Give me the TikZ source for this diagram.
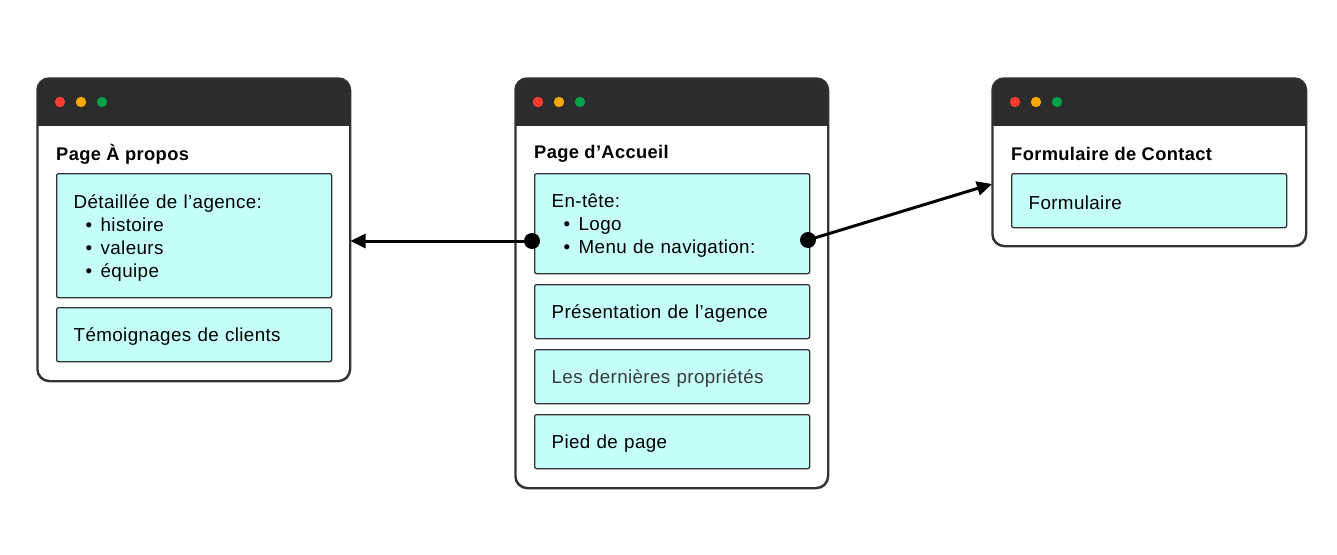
\documentclass[tikz,border=0pt]{standalone}
\usepackage{fontspec}
\setmainfont{Liberation Sans}[LetterSpace=2]
\usetikzlibrary{arrows.meta,calc}
\definecolor{hdr}{HTML}{2C2C2C}
\definecolor{frame}{HTML}{333333}
\definecolor{boxfill}{HTML}{C4FFFA}
\definecolor{dotred}{HTML}{FF3B30}
\definecolor{dotorange}{HTML}{FFA800}
\definecolor{dotgreen}{HTML}{00A148}
\definecolor{greytext}{HTML}{3A3A3A}
\newcommand{\bitem}[1]{\\\makebox[27pt][l]{\hspace{12pt}\textbullet}#1}
\begin{document}
\begin{tikzpicture}[x=1pt,y=-1pt,
  win/.style={draw=frame, line width=1.5pt, rounded corners=12pt, fill=white, anchor=north west, inner sep=0pt},
  boxnode/.style={draw=frame, line width=1.3pt, fill=boxfill, rounded corners=2pt, anchor=north west,
     minimum width=275pt, text width=241pt, inner xsep=17pt, inner ysep=0pt, align=left,
     font=\fontsize{18.8}{23}\selectfont},
  title/.style={anchor=west, inner sep=0pt, font=\fontsize{18.3}{21}\selectfont\bfseries},
  dotball/.style={fill=black},
  conn/.style={line width=3pt, -{Triangle[length=15pt,width=14pt]}}
]
\useasboundingbox (0,0) rectangle (1337,554);
\fill[white] (0,0) rectangle (1337,554);

% windows
\node[win, minimum width=312pt, minimum height=302pt] (w1) at (37,78) {};
\node[win, minimum width=312pt, minimum height=409pt] (w2) at (515,78) {};
\node[win, minimum width=313pt, minimum height=167pt] (w3) at (992,78) {};

\foreach \w in {w1,w2,w3}{
  \begin{scope}
    \clip[rounded corners=12pt] (\w.north west) rectangle (\w.south east);
    \fill[hdr] (\w.north west) rectangle ($(\w.north east)+(0,48)$);
  \end{scope}
  \draw[frame, line width=1.5pt, rounded corners=12pt] (\w.north west) rectangle (\w.south east);
  \fill[dotred] ($(\w.north west)+(23,24)$) circle (5.2pt);
  \fill[dotorange] ($(\w.north west)+(44,24)$) circle (5.2pt);
  \fill[dotgreen] ($(\w.north west)+(65,24)$) circle (5.2pt);
}

% titles
\node[title] (t1) at (56,154) {Page À propos};
\node[title] (t2) at (534,154) {Page d’Accueil};
\node[title] (t3) at (1011,154) {Formulaire de Contact};

% left window boxes
\node[boxnode, minimum height=124pt] (b11) at (56,173)
  {\rule{0pt}{18pt}Détaillée de l’agence:\bitem{histoire}\bitem{valeurs}\bitem{équipe}};
\node[boxnode, minimum height=54pt] (b12) at (56,307) {\rule{0pt}{17pt}Témoignages de clients};

% middle window boxes
\node[boxnode, minimum height=100pt] (b21) at (534,173)
  {\rule{0pt}{18pt}En-tête:\bitem{Logo}\bitem{Menu de navigation:}};
\node[boxnode, minimum height=54pt] (b22) at (534,284) {\rule{0pt}{17pt}Présentation de l’agence};
\node[boxnode, minimum height=54pt, text=greytext] (b23) at (534,349) {\rule{0pt}{17pt}Les dernières propriétés};
\node[boxnode, minimum height=54pt] (b24) at (534,414) {\rule{0pt}{17pt}Pied de page};

% right window box
\node[boxnode, minimum height=54pt] (b31) at (1011,173) {\rule{0pt}{17pt}Formulaire};

% connectors
\coordinate (d1) at (532,241);
\coordinate (d2) at (808,240);
\coordinate (e3) at ($(w3.north west)+(0,106)$);
\draw[conn] (d1) -- (d1 -| w1.east);
\draw[conn] (d2) -- (e3);
\fill[dotball] (d1) circle (8pt);
\fill[dotball] (d2) circle (8pt);
\end{tikzpicture}
\end{document}
